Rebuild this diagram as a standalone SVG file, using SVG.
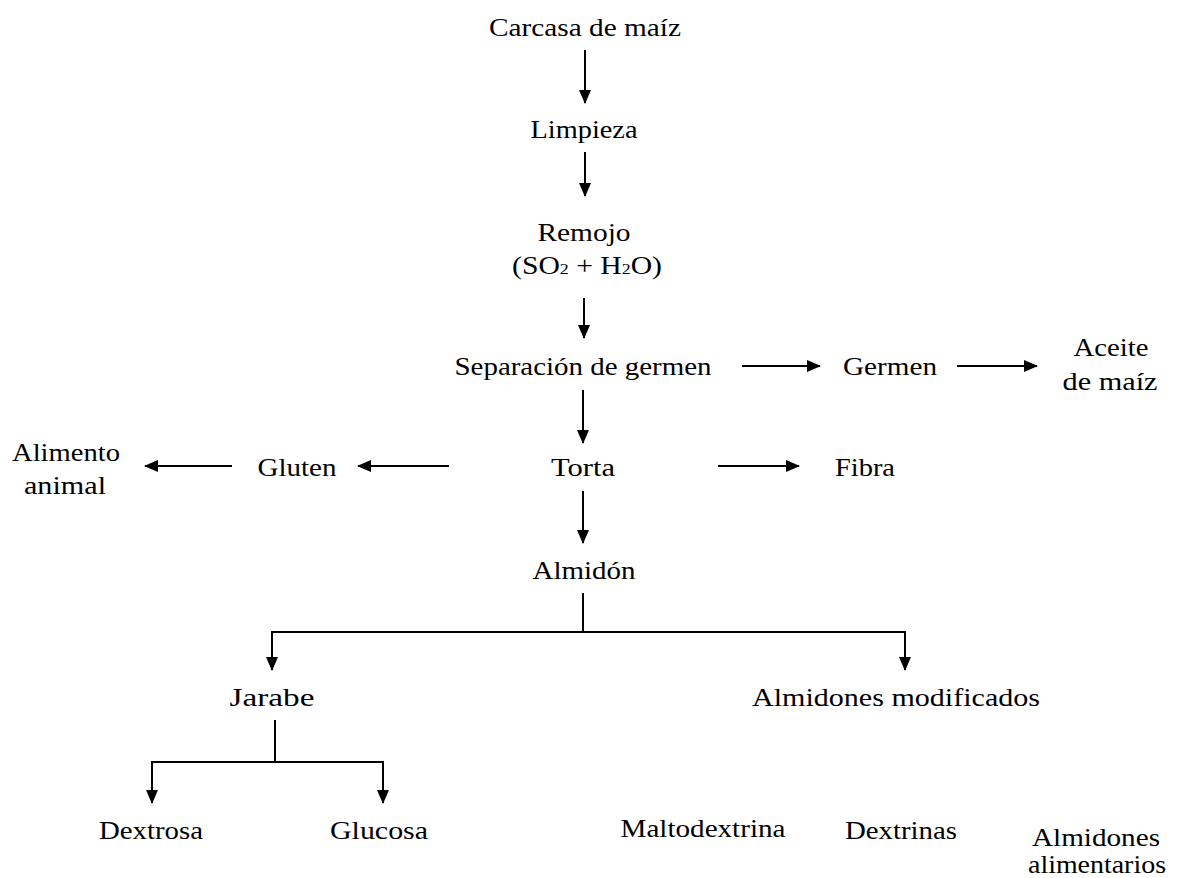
<svg xmlns="http://www.w3.org/2000/svg" width="1177" height="878" viewBox="0 0 1177 878">
<style>
text{font-family:"Liberation Serif","Times New Roman",Times,serif;font-size:25px;fill:#000;text-anchor:middle}
.c path{fill:none;stroke:#000;stroke-width:2}
</style>
<defs>
<marker id="ah" viewBox="0 0 14 12" refX="13" refY="6" markerWidth="14" markerHeight="12" markerUnits="userSpaceOnUse" orient="auto">
<path d="M0,0 L14,6 L0,12 z" fill="#000"/>
</marker>
</defs>
<rect width="1177" height="878" fill="#fff"/>
<g class="c" id="connectors">
<path d="M585,50 V103" marker-end="url(#ah)"/>
<path d="M585,152 V196" marker-end="url(#ah)"/>
<path d="M584,298 V338" marker-end="url(#ah)"/>
<path d="M742,366 H820" marker-end="url(#ah)"/>
<path d="M957,366 H1037" marker-end="url(#ah)"/>
<path d="M583,390 V443" marker-end="url(#ah)"/>
<path d="M449,466 H358" marker-end="url(#ah)"/>
<path d="M232,466 H145" marker-end="url(#ah)"/>
<path d="M718,466 H799" marker-end="url(#ah)"/>
<path d="M583,491 V543" marker-end="url(#ah)"/>
<path d="M583,593 V632"/>
<path d="M583,632 H272 V670" marker-end="url(#ah)"/>
<path d="M583,632 H905 V670" marker-end="url(#ah)"/>
<path d="M275,720 V762"/>
<path d="M275,762 H152 V803" marker-end="url(#ah)"/>
<path d="M275,762 H383 V803" marker-end="url(#ah)"/>
</g>
<g id="n-carcasa"><text x="585" y="36" textLength="192" lengthAdjust="spacingAndGlyphs">Carcasa de maíz</text></g>
<g id="n-limpieza"><text x="584" y="138" textLength="107" lengthAdjust="spacingAndGlyphs">Limpieza</text></g>
<g id="n-remojo"><text x="584" y="241" textLength="93" lengthAdjust="spacingAndGlyphs">Remojo</text>
<text x="587" y="274" textLength="150" lengthAdjust="spacingAndGlyphs">(SO<tspan font-size="15">2</tspan> + H<tspan font-size="15">2</tspan>O)</text></g>
<g id="n-separacion"><text x="583" y="375" textLength="257" lengthAdjust="spacingAndGlyphs">Separación de germen</text></g>
<g id="n-germen"><text x="890" y="375" textLength="94" lengthAdjust="spacingAndGlyphs">Germen</text></g>
<g id="n-aceite"><text x="1111" y="356" textLength="75" lengthAdjust="spacingAndGlyphs">Aceite</text>
<text x="1110" y="390" textLength="95" lengthAdjust="spacingAndGlyphs">de maíz</text></g>
<g id="n-torta"><text x="583" y="476" textLength="64" lengthAdjust="spacingAndGlyphs">Torta</text></g>
<g id="n-gluten"><text x="297" y="476" textLength="79" lengthAdjust="spacingAndGlyphs">Gluten</text></g>
<g id="n-alimento"><text x="66" y="461" textLength="108" lengthAdjust="spacingAndGlyphs">Alimento</text>
<text x="65" y="494" textLength="82" lengthAdjust="spacingAndGlyphs">animal</text></g>
<g id="n-fibra"><text x="865" y="476" textLength="60" lengthAdjust="spacingAndGlyphs">Fibra</text></g>
<g id="n-almidon"><text x="584" y="579" textLength="103" lengthAdjust="spacingAndGlyphs">Almidón</text></g>
<g id="n-jarabe"><text x="272" y="706" textLength="85" lengthAdjust="spacingAndGlyphs">Jarabe</text></g>
<g id="n-modificados"><text x="896" y="706" textLength="288" lengthAdjust="spacingAndGlyphs">Almidones modificados</text></g>
<g id="n-dextrosa"><text x="151" y="839" textLength="104" lengthAdjust="spacingAndGlyphs">Dextrosa</text></g>
<g id="n-glucosa"><text x="379" y="839" textLength="98" lengthAdjust="spacingAndGlyphs">Glucosa</text></g>
<g id="n-maltodextrina"><text x="703" y="837" textLength="165" lengthAdjust="spacingAndGlyphs">Maltodextrina</text></g>
<g id="n-dextrinas"><text x="901" y="839" textLength="112" lengthAdjust="spacingAndGlyphs">Dextrinas</text></g>
<g id="n-alimentarios"><text x="1096" y="846" textLength="128" lengthAdjust="spacingAndGlyphs">Almidones</text>
<text x="1097" y="873" textLength="138" lengthAdjust="spacingAndGlyphs">alimentarios</text></g>
</svg>
